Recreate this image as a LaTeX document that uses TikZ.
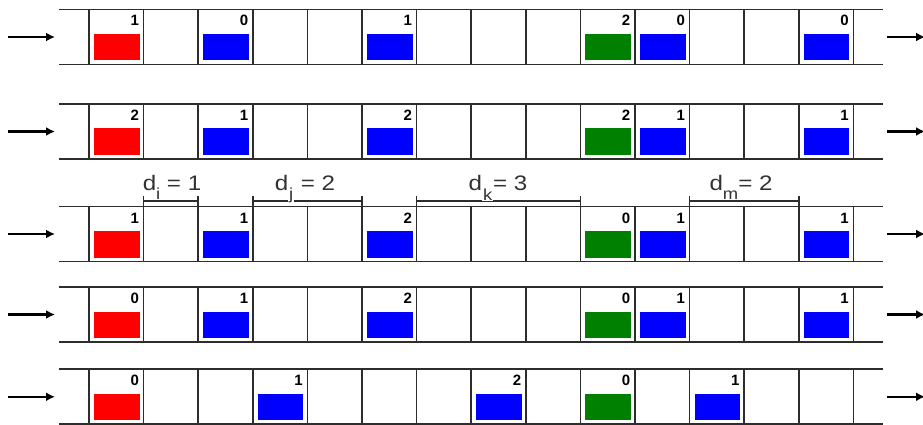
\documentclass[tikz,border=0pt]{standalone}
\usepackage{fontspec}
\setmainfont{Liberation Sans}
\usetikzlibrary{arrows.meta}
\definecolor{linecol}{RGB}{45,45,45}
\definecolor{textcol}{RGB}{50,50,50}
\definecolor{redblk}{RGB}{255,0,0}
\definecolor{blueblk}{RGB}{0,0,255}
\definecolor{greenblk}{RGB}{0,128,0}
\newcommand\subn[1]{\raisebox{-9pt}{\fontsize{16}{16}\selectfont #1}}
\newcommand\subw[2]{\raisebox{-#1}{\fontsize{16}{16}\selectfont\setlength\fboxsep{0.8pt}\colorbox{white}{#2}}}
\begin{document}
\begin{tikzpicture}[x=1pt,y=-1pt,
  rail/.style={draw=linecol,line width=1.7pt},
  blockbox/.style={minimum width=45.6pt,minimum height=26.5pt,inner sep=0pt,outer sep=0pt},
  cnt/.style={font=\fontsize{15}{15}\selectfont\bfseries,inner sep=0pt,anchor=base east},
  flow/.style={line width=2.6pt,draw=black,-{Latex[length=9pt,width=9pt]}},
  dimbar/.style={draw=linecol,line width=1.5pt},
  dimlabel/.style={font=\fontsize{21}{21}\selectfont,text=textcol,inner sep=0pt,anchor=base}]
\useasboundingbox (0,0) rectangle (923,425);
% rows
\foreach \r/\t in {1/9.5,2/104,3/206.5,4/287,5/369.3}{
  \draw[rail] (59,\t) -- (883,\t);
  \draw[rail] (59,\t+55) -- (883,\t+55);
  \foreach \k in {0,...,14}{
    \draw[rail] ({89+54.6*\k},\t) -- ({89+54.6*\k},\t+55);
  }
  \coordinate (in\r s) at (8,\t+27.5);
  \coordinate (in\r e) at (55,\t+27.5);
  \coordinate (out\r s) at (887,\t+27.5);
  \coordinate (out\r e) at (925,\t+27.5);
  \draw[flow] (in\r s) -- (in\r e);
  \draw[flow] (out\r s) -- (out\r e);
}
% blocks
\foreach \r/\t/\c/\col/\n in {
  1/9.5/0/redblk/1, 1/9.5/2/blueblk/0, 1/9.5/5/blueblk/1, 1/9.5/9/greenblk/2, 1/9.5/10/blueblk/0, 1/9.5/13/blueblk/0,
  2/104/0/redblk/2, 2/104/2/blueblk/1, 2/104/5/blueblk/2, 2/104/9/greenblk/2, 2/104/10/blueblk/1, 2/104/13/blueblk/1,
  3/206.5/0/redblk/1, 3/206.5/2/blueblk/1, 3/206.5/5/blueblk/2, 3/206.5/9/greenblk/0, 3/206.5/10/blueblk/1, 3/206.5/13/blueblk/1,
  4/287/0/redblk/0, 4/287/2/blueblk/1, 4/287/5/blueblk/2, 4/287/9/greenblk/0, 4/287/10/blueblk/1, 4/287/13/blueblk/1,
  5/369.3/0/redblk/0, 5/369.3/3/blueblk/1, 5/369.3/7/blueblk/2, 5/369.3/9/greenblk/0, 5/369.3/11/blueblk/1}{
  \node[blockbox,fill=\col] (b\r-\c) at ({89+54.6*\c+27.8},{\t+37.75}) {};
  \node[cnt] (n\r-\c) at ({89+54.6*\c+50.1},{\t+16.5}) {\n};
}
% dimension bars
\foreach \nm/\a/\b in {i/143.6/198.2, j/252.8/362, k/416.6/580.4, m/689.6/798.8}{
  \coordinate (d\nm a) at (\a,201);
  \coordinate (d\nm b) at (\b,201);
  \draw[dimbar] (d\nm a) -- (d\nm b);
  \draw[dimbar] (\a,195.5) -- (\a,206);
  \draw[dimbar] (\b,195.5) -- (\b,206);
}
\node[dimlabel] (li) at (172,190) {\scalebox{1.15}[1]{d\subn{i} = 1}};
\node[dimlabel] (lj) at (305,190) {\scalebox{1.15}[1]{d\subw{9pt}{j} = 2}};
\node[dimlabel] (lk) at (498,190) {\scalebox{1.15}[1]{d\subw{10.5pt}{k}= 3}};
\node[dimlabel] (lm) at (741,190) {\scalebox{1.15}[1]{d\subn{m}= 2}};
\end{tikzpicture}
\end{document}
